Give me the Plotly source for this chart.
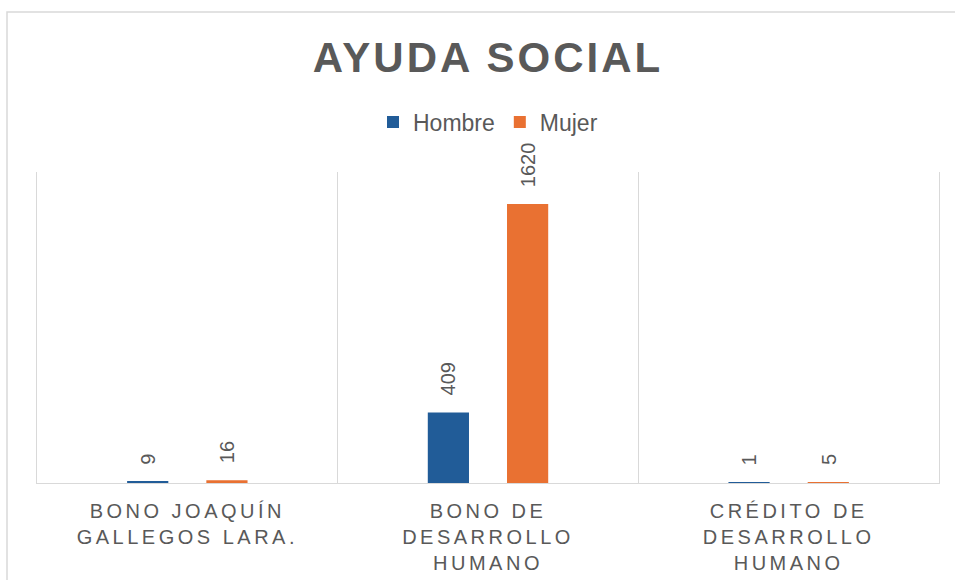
import plotly.graph_objects as go

# ---- data ----
label_lines = [
    ["BONO JOAQUÍN", "GALLEGOS LARA."],
    ["BONO DE", "DESARROLLO", "HUMANO"],
    ["CRÉDITO DE", "DESARROLLO", "HUMANO"],
]
categories = [" ".join(l) for l in label_lines]
series_names = ["Hombre", "Mujer"]
hombre = [9, 409, 1]
mujer = [16, 1620, 5]
colors = ["#215C98", "#E97132"]
title_text = "AYUDA SOCIAL"

TXT = "#595959"
GRID = "#D9D9D9"
FONT = "Liberation Sans, Arial, sans-serif"

def spaced(s, px):
    return f'<span style="letter-spacing:{px}px">{s}</span>'

tick_labels = ["<br>".join(spaced(t, 3.5) for t in lines) for lines in label_lines]

BARGAP = 0.473
GROUPGAP = 0.48

fig = go.Figure()
for name, vals, col in zip(series_names, [hombre, mujer], colors):
    fig.add_trace(go.Bar(
        name=name, x=tick_labels, y=vals, marker_color=col,
        marker_line_width=0,
    ))

# data labels, rotated, placed over each bar
slot = (1 - BARGAP) / len(series_names)
for si, vals in enumerate([hombre, mujer]):
    off = (si - (len(series_names) - 1) / 2) * slot
    for ci, v in enumerate(vals):
        fig.add_annotation(
            x=ci + off, y=v, xref="x", yref="y", text=str(v),
            textangle=-90, showarrow=False, yanchor="bottom", xanchor="center",
            yshift=15, font=dict(size=20, color=TXT, family=FONT),
        )

# outer chart border
fig.add_shape(type="rect", xref="paper", yref="paper",
              x0=-30 / 902, x1=1.03, y0=-0.5, y1=(483 - 12) / 311,
              line=dict(color=GRID, width=1.5), fillcolor="rgba(0,0,0,0)", layer="below")

fig.update_layout(
    width=955, height=580,
    margin=dict(l=37, r=16, t=172, b=97),
    paper_bgcolor="white", plot_bgcolor="white",
    font=dict(family=FONT, color=TXT),
    title=dict(text=spaced(f"<b>{title_text}</b>", 3), x=0.511, xref="container",
               y=1 - 57 / 580, yref="container", yanchor="middle", xanchor="center",
               font=dict(size=42, color=TXT, family=FONT)),
    barmode="group", bargap=BARGAP, bargroupgap=GROUPGAP,
    showlegend=True,
    legend=dict(orientation="h", x=0.5, xanchor="center", y=(483 - 122) / 311,
                yanchor="middle", font=dict(size=23, color=TXT, family=FONT),
                itemwidth=30, traceorder="normal"),
    xaxis=dict(type="category", tickson="boundaries", showgrid=True, gridcolor=GRID,
               gridwidth=1.3, showline=True, linecolor=GRID, linewidth=1.3,
               ticks="", range=[-0.5, 2.5], ticklabelstandoff=10, automargin=False,
               tickfont=dict(size=20, color=TXT, family=FONT)),
    yaxis=dict(range=[0, 1806], showticklabels=False, ticks="", showgrid=False,
               zeroline=False, showline=True, mirror=True, linecolor=GRID,
               linewidth=1.3, automargin=False),
)

fig.write_html("out.html", config={"displayModeBar": False},
               post_script="document.body.style.margin='0';")
